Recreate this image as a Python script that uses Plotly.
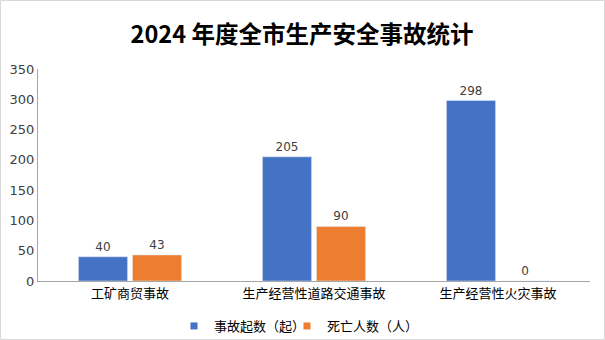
import plotly.graph_objects as go

categories = ["工矿商贸事故", "生产经营性道路交通事故", "生产经营性火灾事故"]
accidents = [40, 205, 298]
deaths = [43, 90, 0]
series_names = ["事故起数（起）", "死亡人数（人）"]
series_colors = ["#4472C4", "#ED7D31"]
y_ticks = [0, 50, 100, 150, 200, 250, 300, 350]

W, H = 605, 340
ML, MR, MT, MB = 38, 15, 69, 59
PW, PH = W - ML - MR, H - MT - MB

font_main = "DejaVu Sans, Noto Sans CJK SC, sans-serif"
font_cjk = "Noto Sans CJK SC, DejaVu Sans, sans-serif"


def px_to_paper_x(px):
    return (px - ML) / PW


def px_to_paper_y(py):
    return (H - MB - py) / PH


fig = go.Figure()
for name, vals, color in zip(series_names, [accidents, deaths], series_colors):
    fig.add_trace(go.Bar(
        x=categories, y=vals, name=name,
        marker_color=color, showlegend=False,
        text=vals, textposition="outside", cliponaxis=False,
        textfont=dict(size=12, color="#404040", family=font_main),
    ))

# small square legend keys, one legend box per series
legend_ids = ["legend", "legend2"]
for name, color, lid in zip(series_names, series_colors, legend_ids):
    fig.add_trace(go.Scatter(
        x=[None], y=[None], mode="markers", name=name,
        marker=dict(symbol="square", size=7, color=color),
        legend=lid, showlegend=True,
    ))

# light frame around the whole chart
fig.add_shape(
    type="rect", xref="paper", yref="paper",
    x0=px_to_paper_x(0.5), x1=px_to_paper_x(W - 0.5),
    y0=px_to_paper_y(H - 0.5), y1=px_to_paper_y(0.5),
    line=dict(color="#D9D9D9", width=1), fillcolor="rgba(0,0,0,0)", layer="below",
)

legend_style = dict(
    orientation="h", xanchor="left", yanchor="middle",
    y=px_to_paper_y(326), itemwidth=30,
    font=dict(size=13, color="#000000", family=font_cjk),
    bgcolor="rgba(0,0,0,0)",
)

fig.update_layout(
    width=W, height=H,
    margin=dict(l=ML, r=MR, t=MT, b=MB, autoexpand=False),
    paper_bgcolor="white", plot_bgcolor="white",
    barmode="group", bargap=0.413, bargroupgap=0.09,
    title=dict(
        text="<b>2024 年度全市生产安全事故统计</b>",
        x=(302 - ML) / PW, xref="paper", xanchor="center",
        y=1 - 35 / H, yanchor="middle",
        font=dict(size=23.5, color="#000000", family=font_cjk),
    ),
    xaxis=dict(
        showline=True, linecolor="#A6A6A6", linewidth=1,
        ticks="", showgrid=False, automargin=False,
        tickfont=dict(size=13, color="#000000", family=font_cjk),
    ),
    yaxis=dict(
        range=[0, 350], tickvals=y_ticks,
        showline=True, linecolor="#A6A6A6", linewidth=1,
        showgrid=False, zeroline=False, ticks="", automargin=False,
        tickfont=dict(size=13, color="#404040", family=font_main),
    ),
    legend=dict(x=px_to_paper_x(174), **legend_style),
    legend2=dict(x=px_to_paper_x(287), **legend_style),
    showlegend=True,
)

fig.write_html("out.html")
